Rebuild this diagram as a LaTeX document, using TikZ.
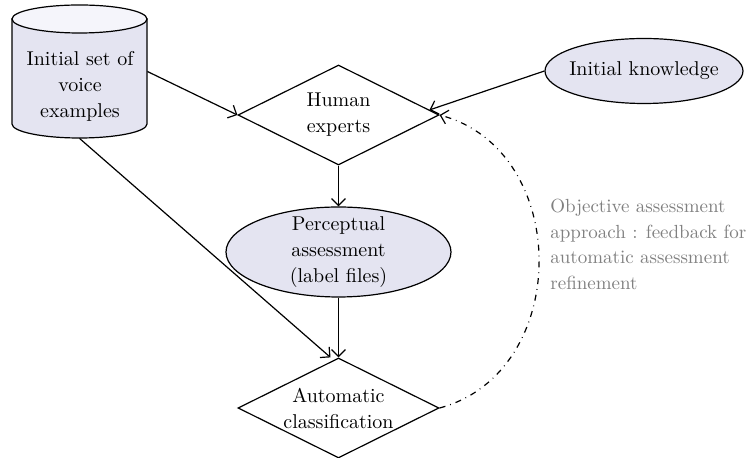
\documentclass[tikz,border=0pt]{standalone}
\usepackage{amsmath}
\usepackage{amssymb}
\usepackage{tikz}
\usetikzlibrary{shapes.geometric,arrows.meta,calc}

\definecolor{lavender}{RGB}{228,228,241}
\definecolor{capfill}{RGB}{245,245,251}
\definecolor{notegray}{RGB}{128,128,128}

\tikzset{
  box/.style={draw, line width=0.6pt, inner sep=0pt},
  decision/.style={box, diamond, minimum width=100.5pt, minimum height=50pt},
  bubble/.style={box, ellipse, fill=lavender},
  txt/.style={align=center, inner sep=0pt, font=\fontsize{10}{13}\selectfont},
  link/.style={line width=0.6pt, -{Straight Barb[length=3.5pt,width=7pt]}},
}

\begin{document}
\begin{tikzpicture}[x=0.5pt, y=0.5pt]
    \useasboundingbox (0,0) rectangle (752,-458);

    % cylinder, drawn by hand round an empty node
    \node[inner sep=0pt, minimum width=67.5pt, minimum height=66.5pt] (voice) at (79.5,-71.5) {};
    \draw[line width=0.6pt, fill=lavender] (12,-19) -- (12,-124)
        arc[start angle=180, end angle=360, x radius=33.75pt, y radius=7pt]
        -- (147,-19) -- cycle;
    \draw[line width=0.6pt, fill=capfill] (79.5,-19) ellipse[x radius=33.75pt, y radius=7pt];
    \node[txt] (voicetxt) at (80,-86) {Initial set of\\voice\\examples};

    \node[decision] (human) at (338.5,-115) {};
    \node[txt] (humantxt) at (human) {Human\\experts};

    \node[bubble, minimum width=99pt, minimum height=32.5pt] (know) at (644,-71) {};
    \node[txt] (knowtxt) at (know) {Initial knowledge};

    \node[bubble, minimum width=112.5pt, minimum height=45pt] (percep) at (338.5,-252) {};
    \node[txt] (perceptxt) at (percep) {Perceptual\\assessment\\(label files)};

    \node[decision] (auto) at (338.5,-408) {};
    \node[txt] (autotxt) at (auto) {Automatic\\classification};

    \node[txt, align=left, anchor=north west, text=notegray,
          font=\fontsize{9.5}{12.8}\selectfont] (note) at (550,-199)
        {Objective assessment\\approach : feedback for\\automatic assessment\\refinement};

    % connectors
    \draw[link] (voice.east) -- (human.west);
    \draw[link] (voice.south) -- ([xshift=-4pt]auto.north);
    \draw[link] (know.west) -- ($(human.east)!0.1!(human.north)$);
    \draw[link] (human.south) -- (percep.north);
    \draw[link] (percep.south) -- (auto.north);
    \draw[link, dash pattern=on 3pt off 2.5pt on 0.4pt off 2.5pt]
        (auto.east) to[out=15, in=-15, looseness=1.2] (human.east);
\end{tikzpicture}
\end{document}
